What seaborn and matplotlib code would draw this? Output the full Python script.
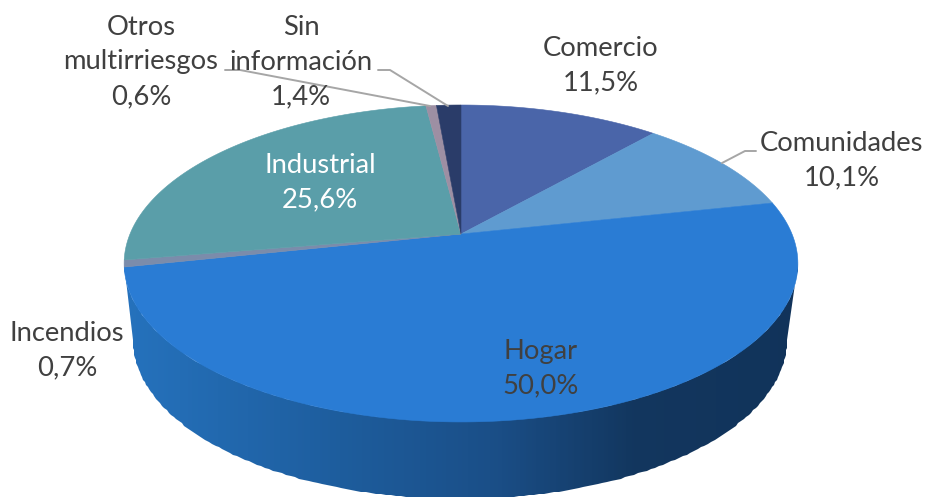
import numpy as np
import pandas as pd
import seaborn as sns
import matplotlib
matplotlib.use("Agg")
import matplotlib.pyplot as plt
from matplotlib.colors import LinearSegmentedColormap
from matplotlib.patches import Polygon
from matplotlib.path import Path
from matplotlib.transforms import Transform

categories = ["Comercio", "Comunidades", "Hogar", "Incendios", "Industrial",
              "Otros multirriesgos", "Sin información"]
shares = [11.5, 10.1, 50.0, 0.7, 25.6, 0.6, 1.4]
tick_text = ["Comercio\n11,5%", "Comunidades\n10,1%", "Hogar\n50,0%", "Incendios\n0,7%",
             "Industrial\n25,6%", "Otros\nmultirriesgos\n0,6%", "Sin\ninformación\n1,4%"]
colors = ["#4a65a9", "#5f9bd0", "#2a7cd4", "#7b8cab", "#5a9ea9", "#9d8fa3", "#2a3c69"]
text_colors = ["#404040", "#404040", "#404040", "#404040", "#ffffff", "#404040", "#404040"]
label_xy = [(601, 66), (842, 161), (541, 369), (67, 351), (320, 183), (141, 62), (301, 62)]
df = pd.DataFrame({"cat": categories, "share": shares})

sns.set_theme(style="white")
plt.rcParams["font.family"] = ["Lato", "DejaVu Sans"]

APEX = (461.0, 234.0)
K, A, B = 0.186, 331.0, 153.0


class Perspective(Transform):
    """Tilts the flat unit-circle pie into its perspective view (pixel-like axes)."""
    input_dims = output_dims = 2
    is_separable = False
    has_inverse = False

    def transform_non_affine(self, values):
        v = np.asarray(values, float)
        d = 1 + K * v[:, 1]
        return np.column_stack((APEX[0] + A * v[:, 0] / d, APEX[1] - B * v[:, 1] / d))

    def transform_path_non_affine(self, path):
        pts = [bez(np.linspace(0, 1, 30)) for bez, _ in path.iter_bezier() if bez.degree >= 1]
        return Path(self.transform_non_affine(np.vstack(pts)))


fig = plt.figure(figsize=(9.28, 4.97), dpi=100)
ax = fig.add_axes([0, 0, 1, 1])

wedges, _ = ax.pie(df["share"], colors=colors, startangle=90, counterclock=False,
                   wedgeprops={"linewidth": 0.4}, radius=1)
persp = Perspective()
for w, c in zip(wedges, colors):
    w.set_edgecolor(c)
    w.set_transform(persp + ax.transData)
    w.set_zorder(3)

ax.set_aspect("auto")
ax.set_xlim(0, 928)
ax.set_ylim(497, 0)
ax.axis("off")

# side wall of the pie
t = np.linspace(0, np.pi, 200)
top_rim = np.column_stack((461 + 337 * np.cos(t), 263 + 158.5 * np.sin(t)))
low_rim = np.column_stack((460 + 327 * np.cos(t[::-1]), 340 + 159 * np.sin(t[::-1])))
clip = Polygon(np.vstack((top_rim, low_rim)), closed=True, transform=ax.transData,
               facecolor="none", edgecolor="none")
ax.add_patch(clip)
cmap = LinearSegmentedColormap.from_list(
    "wall", [(0.0, "#2572bd"), (0.33, "#1d5c9c"), (0.55, "#1a4e87"), (0.76, "#12365e"), (1.0, "#11335a")])
xe = np.linspace(120, 800, 341)
mesh = ax.pcolormesh(xe, [255, 500], np.linspace(0, 1, 340)[None, :], cmap=cmap, shading="flat",
                     zorder=1, antialiased=False)
mesh.set_clip_path(clip)

# leader lines
for xs, ys in [([225, 240, 430], [70, 70, 106]),
               ([378, 390, 448], [70, 70, 106]),
               ([756, 745, 722], [151, 151, 163])]:
    ax.plot(xs, ys, color="#a6a6a6", lw=1.4, zorder=4, solid_joinstyle="round")

for s, (x, y), c in zip(tick_text, label_xy, text_colors):
    ax.text(x, y, s, ha="center", va="center", ma="center", color=c, fontsize=19.7,
            linespacing=1.47, zorder=5)

fig.savefig("out.png", dpi=100, facecolor="white")
